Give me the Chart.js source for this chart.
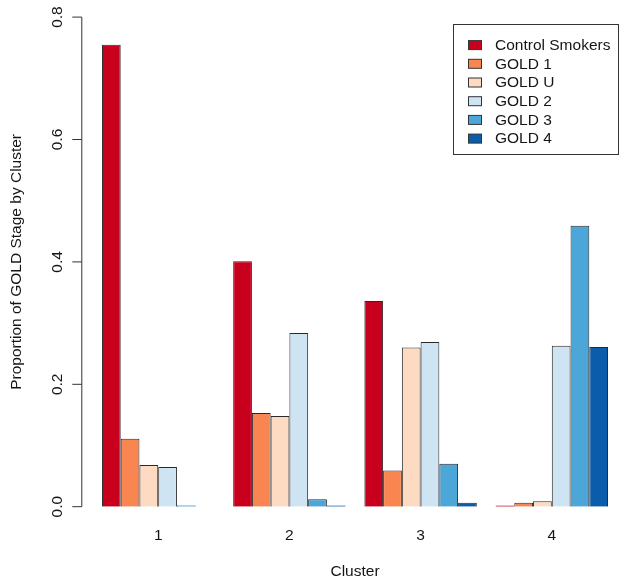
<!DOCTYPE html>
<html>
<head>
<meta charset="utf-8">
<script src="https://cdn.jsdelivr.net/npm/chart.js@4/dist/chart.umd.min.js"></script>
<style>
html,body{margin:0;padding:0;background:#fff;}
#wrap{width:629px;height:587px;position:relative;}
</style>
</head>
<body>
<div id="wrap"><canvas id="c" width="629" height="587"></canvas></div>
<script>
// ---- data ----
const clusters = ['1', '2', '3', '4'];
const seriesNames = ['Control Smokers', 'GOLD 1', 'GOLD U', 'GOLD 2', 'GOLD 3', 'GOLD 4'];
const controlSmokers = [0.755, 0.401, 0.336, 0.002];
const gold1 = [0.111, 0.153, 0.059, 0.0065];
const goldU = [0.068, 0.148, 0.260, 0.009];
const gold2 = [0.065, 0.284, 0.269, 0.263];
const gold3 = [0.002, 0.012, 0.070, 0.459];
const gold4 = [0.000, 0.002, 0.0065, 0.261];
const yTicks = [0.0, 0.2, 0.4, 0.6, 0.8];
const colors = ['#C8001E', '#F98650', '#FDDBC3', '#CFE4F2', '#4DA6D8', '#0B5CAB'];

const seriesValues = [controlSmokers, gold1, goldU, gold2, gold3, gold4];
const FONT = "'Liberation Sans', Arial, Helvetica, sans-serif";
const FS = 15.5;
const TEXT = '#151515';

// draws R-style y axis (line, ticks, rotated labels) using the y scale
const rAxisPlugin = {
  id: 'rAxis',
  afterDraw(chart) {
    const ctx = chart.ctx;
    const ys = chart.scales.y;
    const ax = chart.chartArea.left - 10.8;
    ctx.save();
    ctx.strokeStyle = '#333';
    ctx.lineWidth = 1;
    ctx.beginPath();
    ctx.moveTo(ax, ys.getPixelForValue(yTicks[0]));
    ctx.lineTo(ax, ys.getPixelForValue(yTicks[yTicks.length - 1]));
    yTicks.forEach(v => {
      const p = ys.getPixelForValue(v);
      ctx.moveTo(ax, p);
      ctx.lineTo(ax - 9.5, p);
    });
    ctx.stroke();
    ctx.fillStyle = TEXT;
    ctx.font = FS + 'px ' + FONT;
    ctx.textAlign = 'center';
    ctx.textBaseline = 'middle';
    yTicks.forEach(v => {
      const p = ys.getPixelForValue(v);
      ctx.save();
      ctx.translate(ax - 24.5, p);
      ctx.rotate(-Math.PI / 2);
      ctx.fillText(v.toFixed(1), 0, 0);
      ctx.restore();
    });
    ctx.restore();
  }
};

// R-style boxed legend in the top-right of the plot
const rLegendPlugin = {
  id: 'rLegend',
  afterDraw(chart) {
    const ctx = chart.ctx;
    const ca = chart.chartArea;
    const right = ca.right + 0.3;
    const left = right - 164.7;
    const top = ca.top + 7;
    const rowH = 18.7;
    const height = 130;
    ctx.save();
    ctx.fillStyle = '#fff';
    ctx.fillRect(left, top, right - left, height);
    ctx.strokeStyle = '#333';
    ctx.lineWidth = 1;
    ctx.strokeRect(Math.round(left) + 0.5, Math.round(top) + 0.5, Math.round(right - left), Math.round(height));
    ctx.font = FS + 'px ' + FONT;
    ctx.textBaseline = 'middle';
    ctx.textAlign = 'left';
    chart.data.datasets.forEach((ds, i) => {
      const cy = top + 21 + i * rowH;
      ctx.fillStyle = ds.backgroundColor;
      ctx.fillRect(left + 15, cy - 4.5, 14, 9);
      ctx.strokeStyle = '#333';
      ctx.strokeRect(left + 15.5, cy - 4.5, 13, 9);
      ctx.fillStyle = TEXT;
      ctx.fillText(ds.label, left + 42, cy + 0.5);
    });
    ctx.restore();
  }
};

new Chart(document.getElementById('c'), {
  type: 'bar',
  data: {
    labels: clusters,
    datasets: seriesNames.map((name, i) => ({
      label: name,
      data: seriesValues[i],
      backgroundColor: colors[i],
      borderColor: '#2a2a2a',
      borderWidth: 1,
      categoryPercentage: 6 / 7,
      barPercentage: 1.0
    }))
  },
  options: {
    responsive: false,
    animation: false,
    layout: { padding: { left: 0, right: 11.6, top: 17.1, bottom: 0 } },
    plugins: {
      legend: { display: false },
      tooltip: { enabled: false },
      title: { display: false }
    },
    scales: {
      x: {
        type: 'category',
        offset: true,
        grid: { display: false, drawTicks: false },
        border: { display: false },
        ticks: { color: TEXT, font: { family: FONT, size: FS }, padding: 20 },
        title: { display: true, text: 'Cluster', color: TEXT, font: { family: FONT, size: FS }, padding: { top: 0, bottom: 6 } },
        afterFit(s) { s.height = 80.3; }
      },
      y: {
        min: 0,
        max: 0.8,
        grid: { display: false, drawTicks: false },
        border: { display: false },
        ticks: { display: false },
        title: { display: true, text: 'Proportion of GOLD Stage by Cluster', color: TEXT, font: { family: FONT, size: FS }, padding: { top: 7, bottom: 0 } },
        afterFit(s) { s.width = 92.6; }
      }
    }
  },
  plugins: [rAxisPlugin, rLegendPlugin]
});
</script>
</body>
</html>
